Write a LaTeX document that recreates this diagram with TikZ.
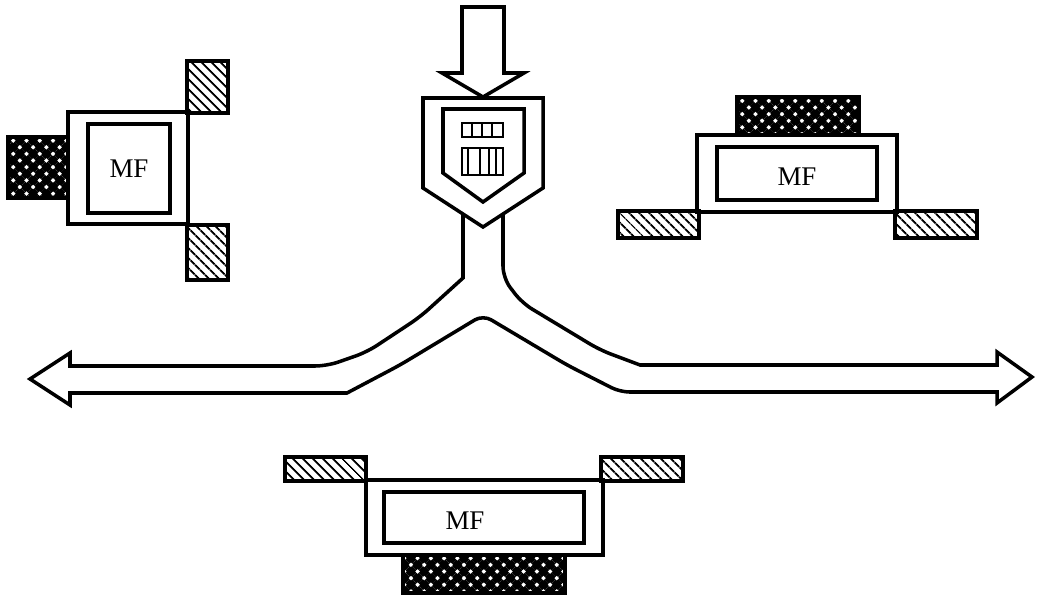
\documentclass[tikz,border=0pt]{standalone}
\usepackage{fontspec}
\setmainfont{Liberation Serif}
\usepackage{tikz}
\usetikzlibrary{patterns.meta}
\definecolor{inkBlack}{HTML}{000000}
\tikzset{
  housing/.style={rectangle, draw=inkBlack, fill=white, line width=3pt, inner sep=0pt},
  mfbox/.style={rectangle, draw=inkBlack, line width=3pt, inner sep=0pt, font=\fontsize{23}{25}\selectfont},
  mflabel/.style={inner sep=0pt, font=\fontsize{23}{25}\selectfont},
  hatchpad/.style={rectangle, draw=inkBlack, line width=3pt, inner sep=0pt, pattern={Lines[angle=-45,distance=6.4pt,line width=1.9pt]}, pattern color=inkBlack},
  crosspad/.style={rectangle, draw=inkBlack, line width=3pt, inner sep=0pt, preaction={pattern={Lines[angle=45,distance=8pt,line width=5pt]}}, pattern={Lines[angle=-45,distance=8pt,line width=5pt]}},
  outline/.style={draw=inkBlack, fill=white, line width=3pt, line join=miter},
  % --- display on the shield ---
  readout/.style={rectangle, draw=inkBlack, line width=2.2pt, inner sep=0pt},
  divider/.style={draw=inkBlack, line width=1.5pt},
}

\begin{document}
\begin{tikzpicture}[x=0.03cm,y=-0.03cm]
  \useasboundingbox (0,0) rectangle (1039,598);

  % channel with the two outgoing arrows
  \draw[outline] (463,214) -- (463,278) [rounded corners=10pt] -- (420,317) -- (367,352) -- (327,366) [sharp corners] -- (70,366) -- (70,353) -- (30,379) -- (70,405) -- (70,393) -- (347,393) [rounded corners=8pt] -- (400,365) -- (483,315) -- (567,365) -- (620,392) [sharp corners] -- (997,392) -- (997,403) -- (1032,377) -- (997,352) -- (997,365) -- (640,365) [rounded corners=10pt] -- (600,350) -- (522,303) -- (503,278) [sharp corners] -- (503,214);

  % shield and incoming arrow
  \draw[outline] (423,98) -- (543,98) -- (543,188) -- (483,227) -- (423,188) -- cycle;
  \draw[outline] (443,109) -- (524,109) -- (524,173) -- (483,202) -- (443,173) -- cycle;
  \draw[outline] (462,7) -- (504,7) -- (504,73) -- (524,73) -- (483,97) -- (442,73) -- (462,73) -- cycle;
  \node[readout, minimum width=1.23cm, minimum height=0.42cm] (dispTop) at (482.5,130) {};
  \node[readout, minimum width=1.23cm, minimum height=0.81cm] (dispLow) at (482.5,161.5) {};
  \foreach \xd in {472,482,492} { \draw[divider] (\xd,123) -- (\xd,137); }
  \foreach \xd in {468,480,489,496} { \draw[divider] (\xd,148) -- (\xd,175); }

  % left MF
  \node[housing, minimum width=3.6cm, minimum height=3.36cm] (housL) at (128,168) {};
  \node[mfbox, minimum width=2.46cm, minimum height=2.67cm] (mfL) at (129,168.5) {MF};
  \node[crosspad, minimum width=1.8cm, minimum height=1.83cm] (crossL) at (38,167.5) {};
  \node[hatchpad, minimum width=1.23cm, minimum height=1.56cm] (padLtop) at (207.5,87) {};
  \node[hatchpad, minimum width=1.23cm, minimum height=1.65cm] (padLbot) at (207.5,252.5) {};

  % right MF
  \node[housing, minimum width=6.0cm, minimum height=2.31cm] (housR) at (797,173.5) {};
  \node[mfbox, minimum width=4.8cm, minimum height=1.59cm] (mfR) at (797,173.5) {};
  \node[mflabel] (txtR) at (797,177) {MF};
  \node[crosspad, minimum width=3.66cm, minimum height=1.14cm] (crossR) at (798,116) {};
  \node[hatchpad, minimum width=2.43cm, minimum height=0.81cm] (padRl) at (658.5,224.5) {};
  \node[hatchpad, minimum width=2.46cm, minimum height=0.81cm] (padRr) at (936,224.5) {};

  % bottom MF
  \node[housing, minimum width=7.11cm, minimum height=2.25cm] (housB) at (484.5,517.5) {};
  \node[mfbox, minimum width=6.0cm, minimum height=1.53cm] (mfB) at (484,517.5) {};
  \node[mflabel] (txtB) at (465,521) {MF};
  \node[crosspad, minimum width=4.86cm, minimum height=1.14cm] (crossB) at (484,574) {};
  \node[hatchpad, minimum width=2.43cm, minimum height=0.72cm] (padBl) at (325.5,469) {};
  \node[hatchpad, minimum width=2.46cm, minimum height=0.72cm] (padBr) at (642,469) {};
\end{tikzpicture}
\end{document}
